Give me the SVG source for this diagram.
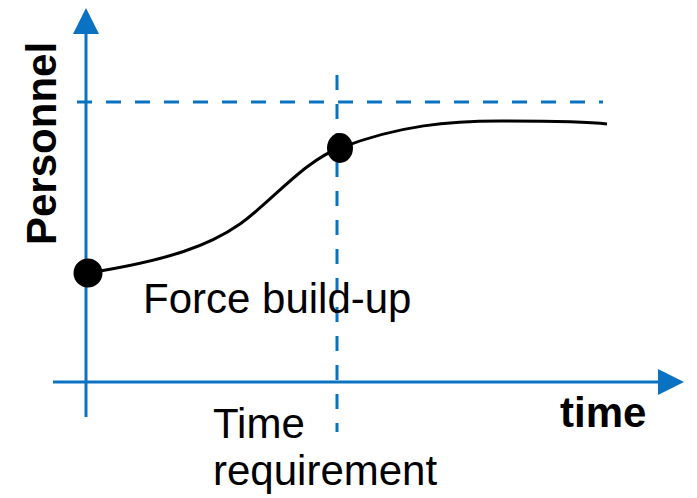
<svg xmlns="http://www.w3.org/2000/svg" width="697" height="498" viewBox="0 0 697 498">
  <style>
    .axis { stroke: #0A72C2; stroke-width: 3; fill: none; }
    .guide { stroke: #0A72C2; stroke-width: 3; fill: none; stroke-dasharray: 15 14; }
    .curve { stroke: #000; stroke-width: 3; fill: none; }
    .lbl { font-family: "Liberation Sans", Arial, sans-serif; font-size: 42px; fill: #000; }
    .bold { font-weight: bold; }
  </style>
  <rect width="697" height="498" fill="#fff"/>

  <!-- guide lines -->
  <g id="guides">
    <line class="guide" x1="77" y1="102" x2="603" y2="102"/>
    <line class="guide" x1="337" y1="75" x2="337" y2="432"/>
  </g>

  <!-- axes -->
  <g id="axes">
    <line class="axis" x1="86" y1="417" x2="86" y2="30"/>
    <polygon points="86,8 99,34 73,34" fill="#0A72C2"/>
    <line class="axis" x1="53" y1="382" x2="662" y2="382"/>
    <polygon points="684,382 658,369 658,395" fill="#0A72C2"/>
  </g>

  <!-- build-up curve -->
  <g id="curve">
    <path class="curve" d="M88,273 C170,260 210,245 240,224 S305,160 340,148 C400,125 450,121 500,121 C560,121 590,122 607,124"/>
    <circle cx="88" cy="273" r="14.5" fill="#000"/>
    <ellipse cx="340" cy="148" rx="13" ry="15" fill="#000"/>
  </g>

  <!-- labels -->
  <g id="labels">
    <text class="lbl bold" transform="translate(56,245) rotate(-90)">Personnel</text>
    <text class="lbl" x="143" y="313">Force build-up</text>
    <text class="lbl" x="213" y="438">Time</text>
    <text class="lbl" x="213" y="485">requirement</text>
    <text class="lbl bold" x="560" y="427">time</text>
  </g>
</svg>
